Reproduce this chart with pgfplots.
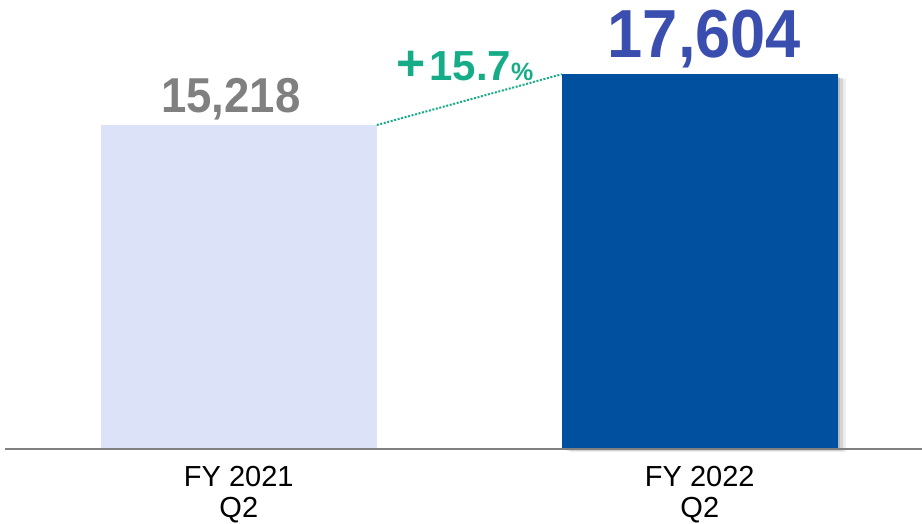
\documentclass[border=0pt]{standalone}
\usepackage{pgfplots}
\pgfplotsset{compat=1.18}
\usepackage{fontspec}
\setmainfont{Liberation Sans}
\newfontfamily\numfont[FakeStretch=0.93]{Liberation Sans}
\definecolor{barlight}{RGB}{220,227,248}
\definecolor{bardark}{RGB}{0,80,160}
\definecolor{valgray}{RGB}{128,128,128}
\definecolor{valblue}{RGB}{58,78,176}
\definecolor{growth}{RGB}{22,172,136}
\begin{document}
\begin{tikzpicture}
\useasboundingbox (0,-75pt) rectangle (922pt,449pt);
\begin{axis}[
    scale only axis,
    width=922pt, height=449pt,
    xmin=-0.518, xmax=1.482,
    ymin=0, ymax=21090,
    axis lines=none,
    clip=false,
    ybar, bar width=276pt, bar shift=0pt,
    xtick=\empty, ytick=\empty,
]
% soft shadow of the second bar
\addplot[draw=none, fill=black, opacity=0.07, xshift=8pt, yshift=-3pt]
    coordinates {(1,17500)};
\addplot[draw=none, fill=black, opacity=0.10, xshift=5pt, yshift=-2pt]
    coordinates {(1,17500)};
\addplot[draw=none, fill=black, opacity=0.12, xshift=2pt, yshift=-1pt]
    coordinates {(1,17500)};
\addplot[draw=none, fill=barlight] coordinates {(0,15218)};
\addplot[draw=none, fill=bardark] coordinates {(1,17604)};

\draw[color=gray, line width=2pt] (axis cs:-0.507,0) -- (axis cs:1.482,0);
\draw[growth, line width=2pt, dash pattern=on 2pt off 1.6pt]
    (axis cs:0.2994,15218) -- (axis cs:0.7006,17604);

\node[anchor=base, text=valgray, inner sep=0pt] at (axis cs:-0.017,15782)
    {\numfont\fontsize{49}{49}\selectfont\bfseries 15,218};
\node[anchor=base, text=valblue, inner sep=0pt] at (axis cs:1.01,18412)
    {\numfont\fontsize{68}{68}\selectfont\bfseries 17,604};
\node[anchor=base, text=growth, inner sep=0pt] at (axis cs:0.49,17332)
    {\bfseries{\fontsize{50}{50}\selectfont +}\hspace{4pt}{\fontsize{42}{42}\selectfont 15.7}{\fontsize{25}{25}\selectfont\%}};

\node[anchor=base, inner sep=0pt, font=\fontsize{29}{29}\selectfont]
    at (axis cs:0,-1785) {FY 2021};
\node[anchor=base, inner sep=0pt, font=\fontsize{29}{29}\selectfont]
    at (axis cs:0,-3241) {Q2};
\node[anchor=base, inner sep=0pt, font=\fontsize{29}{29}\selectfont]
    at (axis cs:1,-1785) {FY 2022};
\node[anchor=base, inner sep=0pt, font=\fontsize{29}{29}\selectfont]
    at (axis cs:1,-3241) {Q2};
\end{axis}
\end{tikzpicture}
\end{document}
